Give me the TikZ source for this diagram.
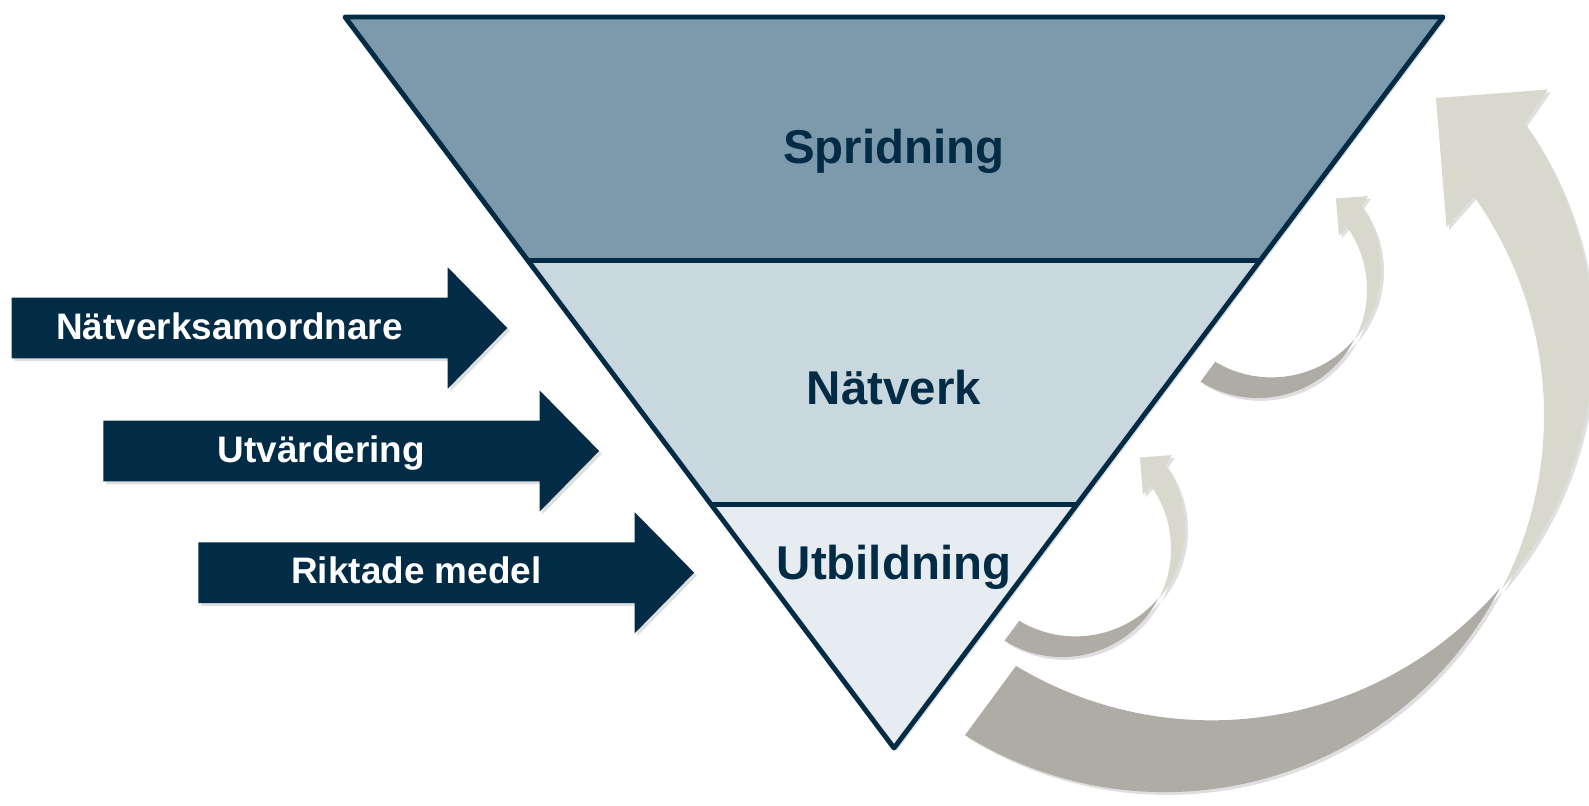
\documentclass[tikz,border=0pt]{standalone}
\usepackage{fontspec}
\setmainfont{Liberation Sans}
\usetikzlibrary{calc,shadows}

\definecolor{navy}{RGB}{2,43,69}
\definecolor{spridcol}{RGB}{124,154,172}
\definecolor{natcol}{RGB}{201,215,223}
\definecolor{utbcol}{RGB}{230,236,240}
\definecolor{ljusgra}{RGB}{217,216,204}
\definecolor{morkgra}{RGB}{174,172,164}

\begin{document}
\begin{tikzpicture}[x=0.02cm,y=-0.02cm,
	lagertext/.style={font=\bfseries\fontsize{27}{32}\selectfont, text=navy, anchor=base, inner sep=0pt},
	piltext/.style={font=\bfseries\fontsize{21}{25}\selectfont, text=white, anchor=base, inner sep=0pt},
	skugga/.style={drop shadow={shadow xshift=1.6pt, shadow yshift=-1.6pt, opacity=0.25}},
	blockpil/.style={fill=navy, skugga},
	framsida/.style={fill=ljusgra, skugga},
	baksida/.style={fill=morkgra, skugga},
	bojdpil/.pic={
		\fill[baksida] (1016,666) -- (965,735.1) arc[start angle=121.9, end angle=27.3, radius=377.7] arc[start angle=40.6, end angle=121.35, radius=379.8] -- cycle;
		\fill[framsida] (1436,98) -- (1548,89.5) -- (1524.5,123.5) arc[start angle=-35.05, end angle=40.6, radius=379.8] arc[start angle=27.3, end angle=-35.5, radius=377.7] -- (1446.5,227) -- cycle;
	}]
	\useasboundingbox (0,0) rectangle (1589,805);
		%triangle
			\coordinate (tl) at (345,17);
			\coordinate (tr) at (1443,17);
			\coordinate (ap) at (894,748);
			\coordinate (l1) at ($(tl)!0.3333!(ap)$);
			\coordinate (r1) at ($(tr)!0.3333!(ap)$);
			\coordinate (l2) at ($(tl)!0.6667!(ap)$);
			\coordinate (r2) at ($(tr)!0.6667!(ap)$);
			\fill[spridcol, skugga] (tl) -- (tr) -- (ap) -- cycle;
			\fill[natcol] (l1) -- (r1) -- (r2) -- (l2) -- cycle;
			\fill[utbcol] (l2) -- (r2) -- (ap) -- cycle;
			\draw[navy, line width=2.8pt, line join=round] (tl) -- (tr) -- (ap) -- cycle;
			\draw[navy, line width=2.8pt] (l1) -- (r1);
			\draw[navy, line width=2.8pt] (l2) -- (r2);
			\node[lagertext] (spridning) at (894,163.5) {Spridning};
			\node[lagertext] (natverk) at (894,404) {Nätverk};
			\node[lagertext] (utbildning) at (894,579) {Utbildning};
		%arrows + labels
			\fill[blockpil] (11.5,297.7) -- (447.7,297.7) -- (447.7,267.3) -- (507.3,328) -- (447.7,388.7) -- (447.7,358.3) -- (11.5,358.3) -- cycle;
			\fill[blockpil] (103.3,420.7) -- (539.5,420.7) -- (539.5,390.3) -- (599.1,451) -- (539.5,511.7) -- (539.5,481.3) -- (103.3,481.3) -- cycle;
			\fill[blockpil] (198.3,542.4) -- (634.5,542.4) -- (634.5,512) -- (694.1,572.7) -- (634.5,633.4) -- (634.5,603) -- (198.3,603) -- cycle;
			\node[piltext] (samordnare) at (229.6,339.3) {Nätverksamordnare};
			\node[piltext] (utvardering) at (321.4,462.3) {Utvärdering};
			\node[piltext] (riktade) at (416.4,583.3) {Riktade medel};
		%curved arrows
			\pic {bojdpil};
			\pic[shift={(923.1,170.3)}, scale=0.2875] {bojdpil};
			\pic[shift={(727.1,429.3)}, scale=0.2875] {bojdpil};
	\end{tikzpicture}
\end{document}
